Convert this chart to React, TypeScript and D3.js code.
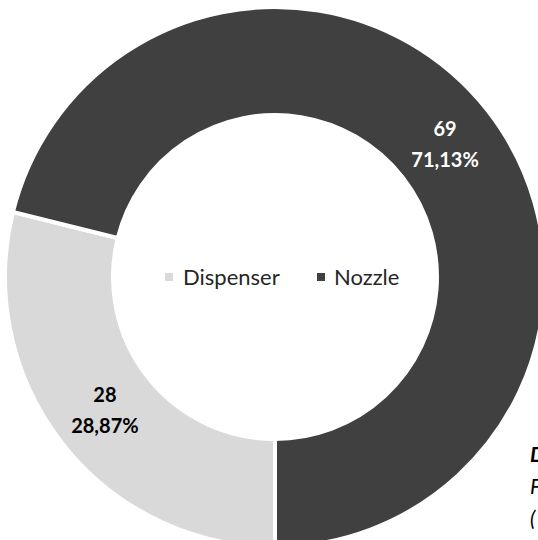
import React from "react";
import * as d3 from "d3";

const categories = ["Dispenser", "Nozzle"];
const values = [28, 69];
const percentLabels = ["28,87%", "71,13%"];
const colors = ["#d9d9d9", "#404040"];
const labelColors = ["#000000", "#ffffff"];
const sideNote = ["D", "F", "("];

export default function App() {
  const W = 538, H = 540;
  const cx = 275, cy = 277, R = 270, r = 162;
  const pie = d3.pie<number>().sort(null).startAngle(Math.PI).endAngle(3 * Math.PI);
  const arcs = pie(values);
  const arc = d3.arc<d3.PieArcDatum<number>>().innerRadius(r).outerRadius(R);
  const font = "Lato, 'Open Sans', sans-serif";
  return (
    <svg width={W} height={H} style={{ position: "absolute", left: 0, top: 0, background: "#fff" }}>
      <g transform={`translate(${cx},${cy})`}>
        {arcs.map((a, i) => (
          <path key={i} d={arc(a) || ""} fill={colors[i]} stroke="#fff" strokeWidth={4} />
        ))}
        {arcs.map((a, i) => {
          const [x, y] = arc.centroid(a);
          return (
            <text key={"l" + i} x={x} y={y} textAnchor="middle" fill={labelColors[i]}
              fontFamily={font} fontWeight="bold" fontSize={20}>
              <tspan x={x} dy={-8}>{values[i]}</tspan>
              <tspan x={x} dy={31}>{percentLabels[i]}</tspan>
            </text>
          );
        })}
      </g>
      <g fontFamily={font} fontSize={22} fill="#262626">
        <rect x={165} y={273} width={8} height={8} fill={colors[0]} />
        <text x={183} y={285}>{categories[0]}</text>
        <rect x={317} y={273} width={8} height={8} fill={colors[1]} />
        <text x={334} y={285}>{categories[1]}</text>
      </g>
      <g fontFamily={font} fontSize={21} fontStyle="italic" fill="#000">
        {sideNote.map((t, i) => (
          <text key={i} x={530} y={462 + i * 32} fontWeight={i === 0 ? "bold" : "normal"}>{t}</text>
        ))}
      </g>
    </svg>
  );
}
